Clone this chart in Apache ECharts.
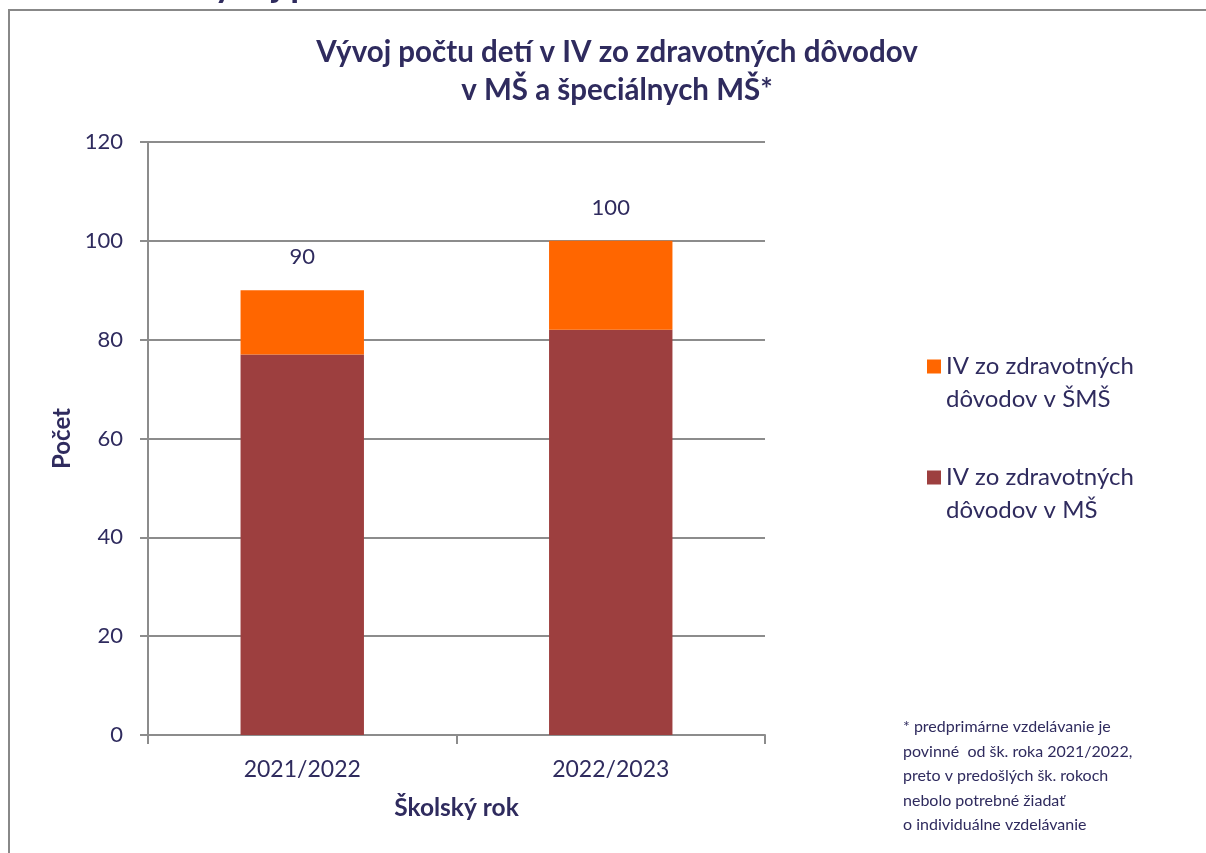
<!DOCTYPE html>
<html>
<head>
<meta charset="utf-8">
<script src="https://cdn.jsdelivr.net/npm/echarts@6/dist/echarts.min.js"></script>
<style>html,body{margin:0;padding:0;background:#fff}#c{width:1206px;height:853px}</style>
</head>
<body>
<div id="c"></div>
<script>
var categories = ['2021/2022', '2022/2023'];
var seriesMS = [77, 82];
var seriesSMS = [13, 18];
var nameMS = 'IV zo zdravotných\ndôvodov v MŠ';
var nameSMS = 'IV zo zdravotných\ndôvodov v ŠMŠ';
var yTicks = [0, 20, 40, 60, 80, 100, 120];
var titleText = 'Vývoj počtu detí v IV zo zdravotných dôvodov\nv MŠ a špeciálnych MŠ*';
var footnote = '* predprimárne vzdelávanie je\npovinné  od šk. roka 2021/2022,\npreto v predošlých šk. rokoch\nnebolo potrebné žiadať\no individuálne vzdelávanie';

var FONT = 'Lato';
var TXT = '#2f2b5e';
var GRID = '#8c8c8c';
// square at the top of a taller invisible box, so it lines up with the first text line
var ICON = 'path://M0,0L14,0L14,14L0,14Z M0,47L0,47';

var chart = echarts.init(document.getElementById('c'));
chart.setOption({
  animation: false,
  textStyle: { fontFamily: FONT },
  title: {
    text: titleText,
    left: 612, top: 28, textAlign: 'center',
    textStyle: { fontFamily: FONT, fontSize: 29.5, fontWeight: 'bold', color: TXT, lineHeight: 38 }
  },
  graphic: [
    { type: 'rect', shape: { x: 9, y: 10, width: 1400, height: 1000 }, style: { fill: 'none', stroke: '#888', lineWidth: 2 }, silent: true },
    { type: 'text', x: 190, y: -15, style: { text: 'Vývoj počtu detí', font: 'bold 36px ' + FONT, fill: TXT, verticalAlign: 'middle' }, silent: true },
    { type: 'text', x: 903, y: 715, style: { text: footnote, font: '16px ' + FONT, fill: TXT, lineHeight: 24.5, verticalAlign: 'top' }, silent: true }
  ],
  legend: {
    orient: 'vertical',
    left: 927, top: 350, padding: 0,
    itemWidth: 14, itemHeight: 47, itemGap: 45,
    icon: ICON,
    data: [nameSMS, nameMS],
    selectedMode: false,
    textStyle: { fontFamily: FONT, fontSize: 24, color: TXT, lineHeight: 33 }
  },
  grid: { left: 148, right: 441, top: 142, bottom: 118, containLabel: false },
  xAxis: {
    type: 'category',
    data: categories,
    name: 'Školský rok',
    nameLocation: 'middle',
    nameGap: 61,
    nameTextStyle: { fontFamily: FONT, fontSize: 24.5, fontWeight: 'bold', color: TXT },
    axisLine: { lineStyle: { color: GRID, width: 2 } },
    axisTick: { show: true, length: 9, lineStyle: { color: GRID, width: 2 } },
    axisLabel: { margin: 23, fontFamily: FONT, fontSize: 23, color: TXT }
  },
  yAxis: {
    type: 'value',
    min: 0, max: 120, interval: 20,
    name: 'Počet',
    nameLocation: 'middle',
    nameGap: 74,
    nameRotate: 90,
    nameTextStyle: { fontFamily: FONT, fontSize: 24, fontWeight: 'bold', color: TXT },
    axisLine: { show: true, lineStyle: { color: GRID, width: 2 } },
    axisTick: { show: true, length: 8, lineStyle: { color: GRID, width: 2 } },
    axisLabel: { margin: 25, fontFamily: FONT, fontSize: 22, color: TXT,
      formatter: function (v) { return yTicks.indexOf(v) >= 0 ? String(v) : ''; } },
    splitLine: { show: true, lineStyle: { color: GRID, width: 2 } }
  },
  series: [
    {
      name: nameMS, type: 'bar', stack: 'total', data: seriesMS, barWidth: '40%',
      itemStyle: { color: '#9d3f3f' }
    },
    {
      name: nameSMS, type: 'bar', stack: 'total', data: seriesSMS, barWidth: '40%',
      itemStyle: { color: '#ff6600' },
      label: {
        show: true, position: 'top', distance: 22,
        fontFamily: FONT, fontSize: 22, color: TXT,
        formatter: function (p) { return String(seriesMS[p.dataIndex] + seriesSMS[p.dataIndex]); }
      }
    }
  ]
});
</script>
</body>
</html>
